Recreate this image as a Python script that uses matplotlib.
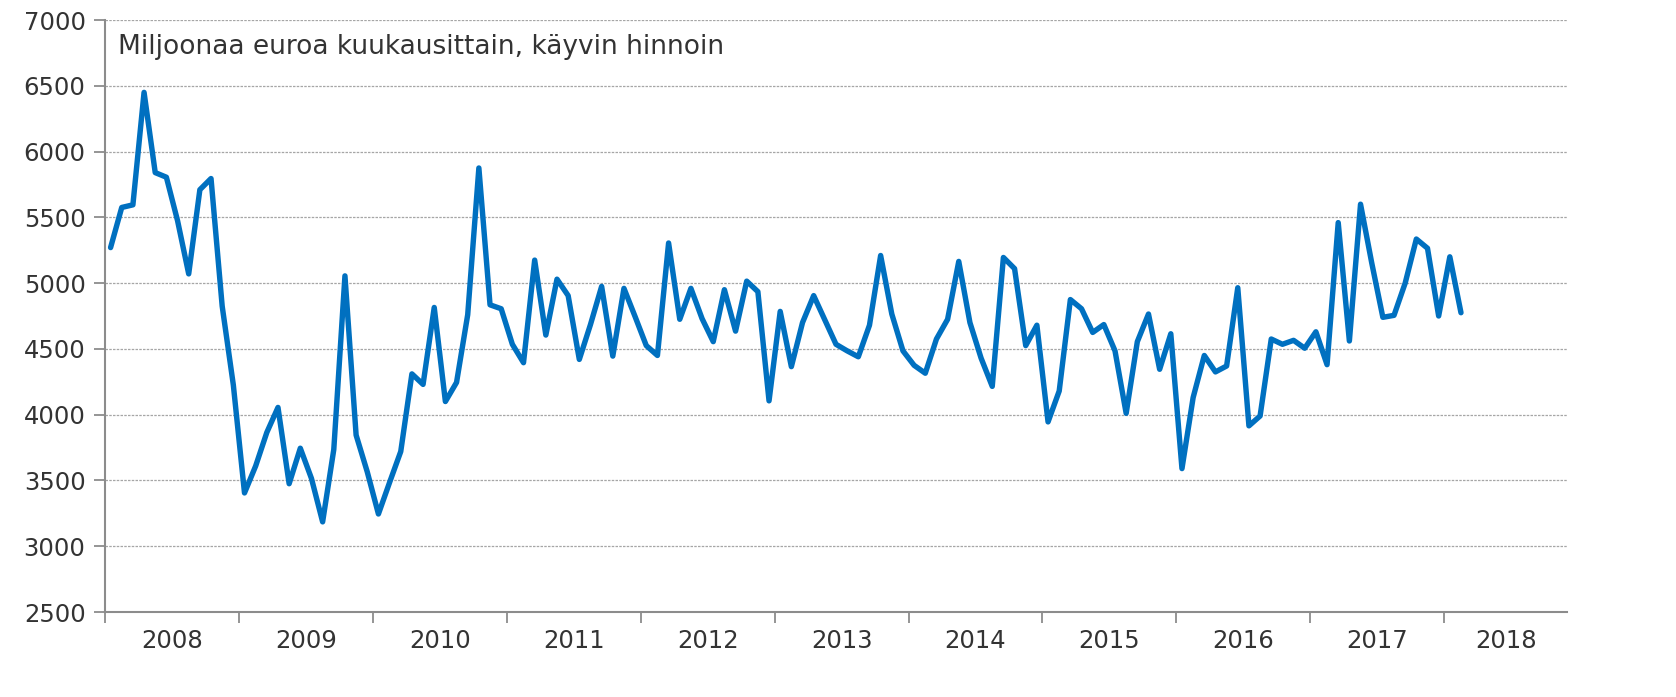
import numpy as np
import matplotlib
matplotlib.use('Agg')
import matplotlib.pyplot as plt

# monthly values, Jan 2008 .. Feb 2018 (milj. euroa)
values_2008 = [5270, 5575, 5595, 6450, 5840, 5805, 5475, 5070, 5710, 5795, 4825, 4225]
values_2009 = [3405, 3610, 3865, 4055, 3475, 3745, 3515, 3185, 3735, 5055, 3845, 3565]
values_2010 = [3245, 3485, 3720, 4310, 4230, 4815, 4100, 4245, 4760, 5875, 4835, 4805]
values_2011 = [4535, 4395, 5175, 4605, 5030, 4905, 4420, 4685, 4975, 4445, 4960, 4745]
values_2012 = [4525, 4450, 5305, 4725, 4960, 4730, 4555, 4950, 4635, 5015, 4935, 4105]
values_2013 = [4785, 4365, 4700, 4905, 4720, 4535, 4485, 4440, 4680, 5210, 4765, 4485]
values_2014 = [4375, 4315, 4575, 4725, 5165, 4700, 4430, 4215, 5195, 5110, 4525, 4680]
values_2015 = [3945, 4180, 4875, 4805, 4625, 4685, 4485, 4010, 4555, 4765, 4345, 4615]
values_2016 = [3590, 4130, 4450, 4325, 4370, 4965, 3915, 3990, 4575, 4535, 4565, 4505]
values_2017 = [4630, 4380, 5460, 4560, 5600, 5155, 4740, 4755, 5000, 5335, 5265, 4750]
values_2018 = [5200, 4775]

years = ['2008', '2009', '2010', '2011', '2012', '2013', '2014', '2015',
         '2016', '2017', '2018']
title_text = 'Miljoonaa euroa kuukausittain, käyvin hinnoin'

values = (values_2008 + values_2009 + values_2010 + values_2011 + values_2012
          + values_2013 + values_2014 + values_2015 + values_2016 + values_2017
          + values_2018)
n_cat = 131  # category axis runs Jan 2008 .. Nov 2018

plt.rcParams['font.family'] = ['DejaVu Sans']
txt = '#333333'
axis_col = '#8c8c8c'

fig = plt.figure(figsize=(16.76, 6.97), dpi=100)
ax = fig.add_axes([105 / 1676, 1 - 612 / 697, (1567 - 105) / 1676, (612 - 20) / 697])

x = np.arange(len(values)) + 0.5
ax.plot(x, values, color='#0070C0', lw=3.9, solid_joinstyle='round', solid_capstyle='round',
        zorder=3)

ax.set_xlim(0, n_cat)
ax.set_ylim(2500, 7000)
ax.set_yticks(np.arange(2500, 7001, 500))
ax.yaxis.grid(True, color='#a6a6a6', lw=0.9, ls=(0, (2, 1)))
ax.set_axisbelow(True)

# year boundaries as major ticks, year names centred as minor labels
ax.set_xticks(np.arange(0, 121, 12))
ax.set_xticklabels([])
centers = [12 * k + 6 for k in range(10)] + [120 + (n_cat - 120) / 2]
ax.set_xticks(centers, minor=True)
ax.set_xticklabels(years, minor=True)
ax.tick_params(axis='x', which='minor', length=0, pad=12, labelsize=17.5, labelcolor=txt)
ax.tick_params(axis='x', which='major', length=8, width=1.3, color=axis_col)
ax.tick_params(axis='y', length=8, width=1.3, color=axis_col, labelsize=17.5,
               labelcolor=txt, pad=6)

for s in ['top', 'right']:
    ax.spines[s].set_visible(False)
for s in ['left', 'bottom']:
    ax.spines[s].set_color(axis_col)
    ax.spines[s].set_linewidth(1.5)

ax.text(118 / 1676, 1 - 47 / 697, title_text, transform=fig.transFigure,
        fontsize=19, color=txt, va='center', ha='left')

fig.savefig('out.png', dpi=100)
